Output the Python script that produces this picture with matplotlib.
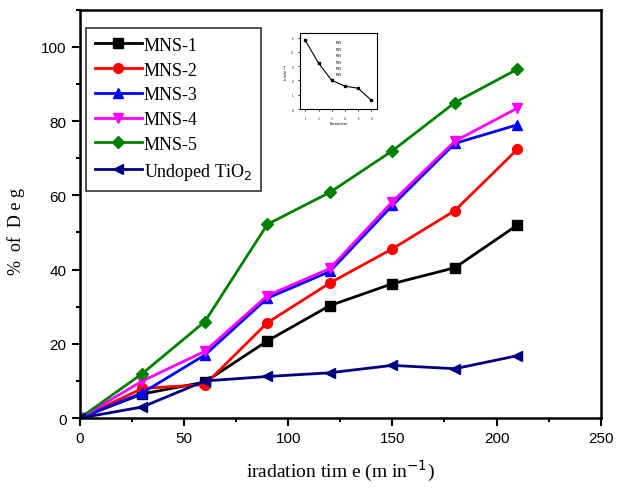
import matplotlib.pyplot as plt
from matplotlib.ticker import MultipleLocator

# irradiation time (min) and % degradation per sample
time = [0, 30, 60, 90, 120, 150, 180, 210]
mns1 = [0, 6.5, 9.7, 20.8, 30.3, 36.2, 40.5, 52.0]
mns2 = [0, 8.0, 9.0, 25.7, 36.4, 45.6, 55.9, 72.4]
mns3 = [0, 6.8, 17.0, 32.3, 39.5, 57.3, 74.0, 79.0]
mns4 = [0, 10.0, 18.0, 33.0, 40.3, 58.3, 74.6, 83.5]
mns5 = [0, 12.0, 26.0, 52.2, 60.8, 72.0, 85.0, 94.0]
undoped = [0, 3.0, 10.0, 11.2, 12.2, 14.2, 13.3, 16.8]

labels = ["MNS-1", "MNS-2", "MNS-3", "MNS-4", "MNS-5", "Undoped TiO$_2$"]
colors = ["black", "red", "blue", "magenta", "green", "navy"]
markers = ["s", "o", "^", "v", "D", "<"]

# small inset curve
inset_x = [1, 2, 3, 4, 5, 6]
inset_y = [4.8, 3.2, 2.0, 1.6, 1.45, 0.6]

serif = "Liberation Serif"
sans = "Liberation Sans"

fig = plt.figure(figsize=(6.29, 4.89), dpi=100)
ax = fig.add_axes([0.127, 0.143, 0.828, 0.835])

for y, lab, c, m in zip([mns1, mns2, mns3, mns4, mns5, undoped], labels, colors, markers):
    ax.plot(time, y, color=c, marker=m, lw=2, ms=7 if m != "D" else 6, label=lab)

ax.set_xlim(0, 250)
ax.set_ylim(0, 110)
ax.xaxis.set_major_locator(MultipleLocator(50))
ax.xaxis.set_minor_locator(MultipleLocator(25))
ax.yaxis.set_major_locator(MultipleLocator(20))
ax.yaxis.set_minor_locator(MultipleLocator(10))
ax.tick_params(which="both", direction="out", width=1.5, labelsize=11)
ax.tick_params(which="major", length=6)
ax.tick_params(which="minor", length=3)
ax.tick_params(top=False, right=False)
for lbl in ax.get_xticklabels() + ax.get_yticklabels():
    lbl.set_fontfamily(sans)
for s in ax.spines.values():
    s.set_linewidth(1.8)

ax.set_xlabel("iradation tim e (m in$^{-1}$)", fontfamily=serif, fontsize=14, labelpad=9)
ax.set_ylabel("%  of  D e g", fontfamily=serif, fontsize=13)
ax.yaxis.set_label_coords(-0.105, 0.46)

leg = ax.legend(loc="upper left", bbox_to_anchor=(0.0115, 0.956), prop={"family": serif, "size": 13},
                frameon=True, fancybox=False, edgecolor="black", handlelength=2.6,
                handletextpad=0.1, borderpad=0.5, labelspacing=0.43, borderaxespad=0.0)
leg.get_frame().set_linewidth(1.2)

# inset
ins = fig.add_axes([0.477, 0.775, 0.122, 0.155])
ins.plot(inset_x, inset_y, color="black", marker="s", ms=2, lw=0.8)
ins.set_xlim(0.6, 6.4)
ins.set_ylim(0, 5.3)
ins.tick_params(labelsize=2, length=1.5, width=0.6)
for s in ins.spines.values():
    s.set_linewidth(0.8)
ins.set_xlabel("Parameter", fontsize=2.5, labelpad=1)
ins.set_ylabel("k (min$^{-1}$)", fontsize=2.5, labelpad=1)
for i in range(6):
    ins.text(3.3, 4.6 - i * 0.45, "MNS", fontsize=2)

fig.savefig("out.png", dpi=100)
